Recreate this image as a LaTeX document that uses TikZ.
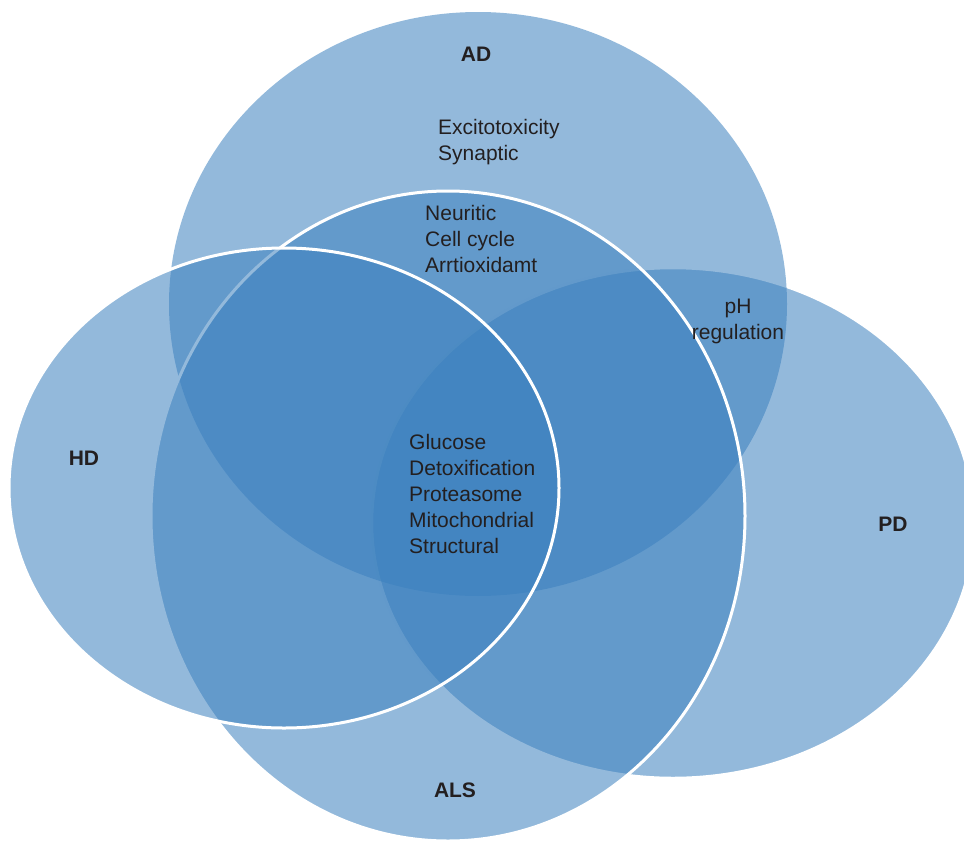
\documentclass[tikz,border=0pt]{standalone}
\usepackage{fontspec}
\setmainfont{Liberation Sans}
\definecolor{vennblue}{RGB}{59,128,190}
\definecolor{txtgray}{RGB}{35,31,32}
\tikzset{
  setfill/.style={fill=vennblue, fill opacity=0.55},
  whiteedge/.style={draw=white, line width=3pt},
  faintedge/.style={draw=white, line width=2.5pt},
  itemtext/.style={text=txtgray, font=\fontsize{21}{26}\selectfont, align=left, inner sep=0pt, anchor=north west},
  settitle/.style={text=txtgray, font=\fontsize{21}{26}\selectfont\bfseries, inner sep=0pt}
}
\begin{document}
\begin{tikzpicture}[x=1pt,y=-1pt]
\useasboundingbox (0,0) rectangle (964,841);
\clip (0,0) rectangle (964,841);
% PD
\path[setfill, faintedge] (673,523) ellipse [x radius=301, y radius=255];
% AD
\path[setfill] (478,304) ellipse [x radius=309, y radius=292];
% ALS
\path[setfill, whiteedge] (448,516) ellipse [x radius=297, y radius=325];
% HD
\path[setfill, whiteedge] (284,488) ellipse [x radius=275, y radius=240];

\node[settitle] (ad) at (476,54) {AD};
\node[settitle] (hd) at (84,458) {HD};
\node[settitle] (pd) at (893,524) {PD};
\node[settitle] (als) at (455,790) {ALS};

\node[itemtext] (adonly) at (438,119) {Excitotoxicity\\Synaptic};
\node[itemtext] (adals) at (425,205) {Neuritic\\Cell cycle\\Arrtioxidamt};
\node[itemtext, align=center, anchor=north] (adpd) at (738,299) {pH\\regulation};
\node[itemtext] (core) at (409,434) {Glucose\\Detoxification\\Proteasome\\Mitochondrial\\Structural};
\end{tikzpicture}
\end{document}
